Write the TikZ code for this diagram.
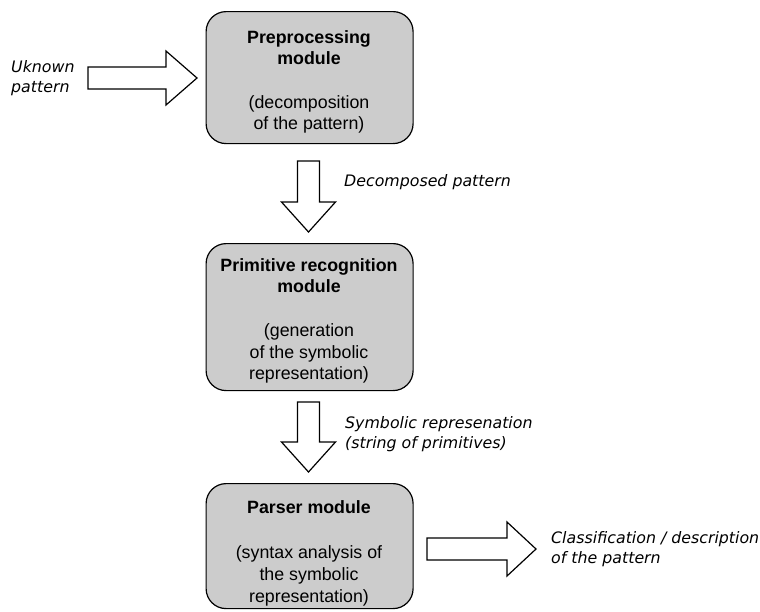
\documentclass[tikz,border=0pt]{standalone}
\usepackage{fontspec}
\setmainfont{Liberation Sans}
\newfontfamily\notefont{DejaVu Sans}
\definecolor{modfill}{RGB}{204,204,204}
\begin{document}
\begin{tikzpicture}[x=1pt,y=-1pt,
  modbox/.style={draw=black, line width=1.2pt, fill=modfill, rounded corners=20pt,
    minimum width=207pt, anchor=north west, inner sep=0pt},
  modtext/.style={align=center, anchor=north, inner sep=0pt,
    font=\fontsize{17.8}{21.7}\selectfont},
  note/.style={align=left, anchor=north west, inner sep=0pt,
    font=\notefont\itshape\fontsize{15.8}{19.8}\selectfont},
  arrowline/.style={draw=black, line width=1.2pt, fill=white, line join=miter}]
\useasboundingbox (0,0) rectangle (760,611);

% processing modules
\node[modbox, minimum height=132pt] (pre) at (205.5,11) {};
\node[modtext] (pretext) at (309,30)
  {\textbf{Preprocessing}\\\textbf{module}\\[21.5pt](decomposition\\of the pattern)};

\node[modbox, minimum height=147pt] (prim) at (205.5,243) {};
\node[modtext] (primtext) at (309,258)
  {\textbf{Primitive recognition}\\\textbf{module}\\[22pt](generation\\of the symbolic\\representation)};

\node[modbox, minimum height=125pt] (parser) at (205.5,483) {};
\node[modtext] (parsertext) at (309,500)
  {\textbf{Parser module}\\[24pt](syntax analysis of\\the symbolic\\representation)};

% hollow block arrows
\draw[arrowline] (88,67) -- (166,67) -- (166,51) -- (197,78) -- (166,105) -- (166,89) -- (88,89) -- cycle;
\draw[arrowline] (297.5,161) -- (319.5,161) -- (319.5,202) -- (335.5,202) -- (308.5,232) -- (281.5,202) -- (297.5,202) -- cycle;
\draw[arrowline] (297.5,402) -- (319.5,402) -- (319.5,442) -- (335.5,442) -- (308.5,472) -- (281.5,442) -- (297.5,442) -- cycle;
\draw[arrowline] (427,538) -- (507,538) -- (507,522) -- (536,549) -- (507,576) -- (507,560) -- (427,560) -- cycle;

% flow labels
\node[note] (innote) at (11,60) {Uknown\\pattern};
\node[note] (decnote) at (344,174) {Decomposed pattern};
\node[note] (symnote) at (345,416) {Symbolic represenation\\(string of primitives)};
\node[note] (outnote) at (551,531) {Classification / description\\of the pattern};
\end{tikzpicture}
\end{document}
